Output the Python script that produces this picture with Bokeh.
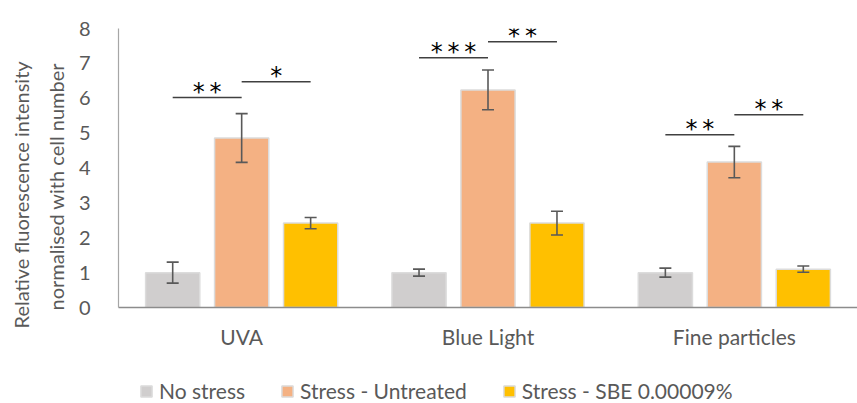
from bokeh.plotting import figure
from bokeh.layouts import column
from bokeh.models import (ColumnDataSource, FactorRange, Whisker, Legend, Title,
                          LegendItem, TeeHead, FixedTicker)
from bokeh.transform import dodge
from bokeh.core.properties import value
from bokeh.embed import file_html
from bokeh.resources import INLINE

# ---- data ----
categories = ["UVA", "Blue Light", "Fine particles"]
series_names = ["No stress", "Stress - Untreated", "Stress - SBE 0.00009%"]
no_stress = [1.0, 1.0, 1.0]
no_stress_err = [0.30, 0.10, 0.13]
untreated = [4.86, 6.24, 4.17]
untreated_err = [0.70, 0.57, 0.45]
sbe = [2.42, 2.42, 1.10]
sbe_err = [0.16, 0.34, 0.09]
y_ticks = [0, 1, 2, 3, 4, 5, 6, 7, 8]

sig_left_y = [6.02, 7.16, 4.95]
sig_left_labels = ["*\u2009*", "*\u2009*\u2009*", "*\u2009*"]
sig_right_y = [6.47, 7.62, 5.53]
sig_right_labels = ["*", "*\u2009*", "*\u2009*"]

colors = ["#D0CECE", "#F4B183", "#FFC000"]
offsets = [-0.28, 0.0, 0.28]
FONT = "Lato"
TXT = "#595959"

src = ColumnDataSource(dict(
    cats=categories,
    s0=no_stress, s1=untreated, s2=sbe,
    s0_lo=[v - e for v, e in zip(no_stress, no_stress_err)],
    s0_hi=[v + e for v, e in zip(no_stress, no_stress_err)],
    s1_lo=[v - e for v, e in zip(untreated, untreated_err)],
    s1_hi=[v + e for v, e in zip(untreated, untreated_err)],
    s2_lo=[v - e for v, e in zip(sbe, sbe_err)],
    s2_hi=[v + e for v, e in zip(sbe, sbe_err)],
))

xr = FactorRange(*categories, range_padding=0)
p = figure(x_range=xr, y_range=(0, 8),
           frame_width=739, frame_height=279,
           min_border_left=118, min_border_right=0, min_border_top=28, min_border_bottom=63,
           output_backend="svg", toolbar_location=None, tools="")
p.outline_line_color = None
p.xgrid.visible = False
p.ygrid.visible = False

for i, key in enumerate(["s0", "s1", "s2"]):
    p.vbar(x=dodge("cats", offsets[i], range=xr), top=key, width=0.22,
           source=src, fill_color=colors[i], line_color="#dcdcdc", line_width=1.5)
    w = Whisker(base=dodge("cats", offsets[i], range=xr), lower=key + "_lo",
                upper=key + "_hi", source=src, line_color="#595959", line_width=1.6,
                level="overlay",
                upper_head=TeeHead(size=12, line_color="#595959", line_width=1.6),
                lower_head=TeeHead(size=12, line_color="#595959", line_width=1.6))
    p.add_layout(w)

# significance brackets
lsrc = ColumnDataSource(dict(cats=categories, y=sig_left_y, lab=sig_left_labels))
rsrc = ColumnDataSource(dict(cats=categories, y=sig_right_y, lab=sig_right_labels))
for s, o0, o1 in [(lsrc, offsets[0], offsets[1]), (rsrc, offsets[1], offsets[2])]:
    p.segment(x0=dodge("cats", o0, range=xr), x1=dodge("cats", o1, range=xr),
              y0="y", y1="y", source=s, line_color="#404040", line_width=1.5)
    p.text(x=dodge("cats", (o0 + o1) / 2, range=xr), y="y", text="lab", source=s,
           text_align="center", text_baseline="alphabetic", y_offset=-6,
           text_font=value("DejaVu Sans"), text_font_size="24px", text_color="#000000")

# axes
p.yaxis.ticker = FixedTicker(ticks=y_ticks)
for ax in (p.xaxis, p.yaxis):
    ax.major_tick_line_color = None
    ax.minor_tick_line_color = None
    ax.major_label_text_font = FONT
    ax.major_label_text_color = TXT
p.yaxis.major_label_text_font_size = "20px"
p.xaxis.major_label_text_font_size = "21px"
p.yaxis.axis_line_color = "#a6a6a6"
p.yaxis.axis_line_width = 1.2
p.yaxis.major_label_standoff = 22
p.xaxis.axis_line_color = "#8c8c8c"
p.xaxis.axis_line_width = 1.5
p.xaxis.major_label_standoff = 10

# y-axis title as two rotated lines (inner line first)
for txt, so, off in [("normalised with cell number", 16, -3),
                     ("Relative fluorescence intensity", 2, -21)]:
    p.add_layout(Title(text=txt, align="left", offset=off, standoff=so,
                       text_font=FONT, text_font_size="20px", text_font_style="normal",
                       text_color=TXT), "left")

# legend strip below the chart (frame aligned with the chart frame by the column)
lg = figure(width=857, height=33, x_range=xr, y_range=(0, 1),
            x_axis_type=None, y_axis_type=None,
            min_border_left=0, min_border_right=0, min_border_top=0, min_border_bottom=0,
            output_backend="svg", toolbar_location=None, tools="")
lg.outline_line_color = None
lg.grid.visible = False
swatches = [lg.vbar(x=dodge("cats", offsets[i], range=xr), top=key, width=0.22, source=src,
                    fill_color=colors[i], line_color="#dcdcdc", line_width=1.5, visible=False)
            for i, key in enumerate(["s0", "s1", "s2"])]
legend = Legend(items=[LegendItem(label=n, renderers=[r]) for n, r in zip(series_names, swatches)],
                orientation="horizontal", location=(21, 0), border_line_color=None,
                background_fill_alpha=0, inactive_fill_alpha=0,
                label_text_font=FONT, label_text_font_size="21px",
                label_text_color=TXT, glyph_width=14, glyph_height=14, label_standoff=6,
                spacing=35, padding=0, margin=0)
lg.add_layout(legend, "center")

layout = column(p, lg, spacing=0)
open("out.html", "w").write(file_html(layout, INLINE))
